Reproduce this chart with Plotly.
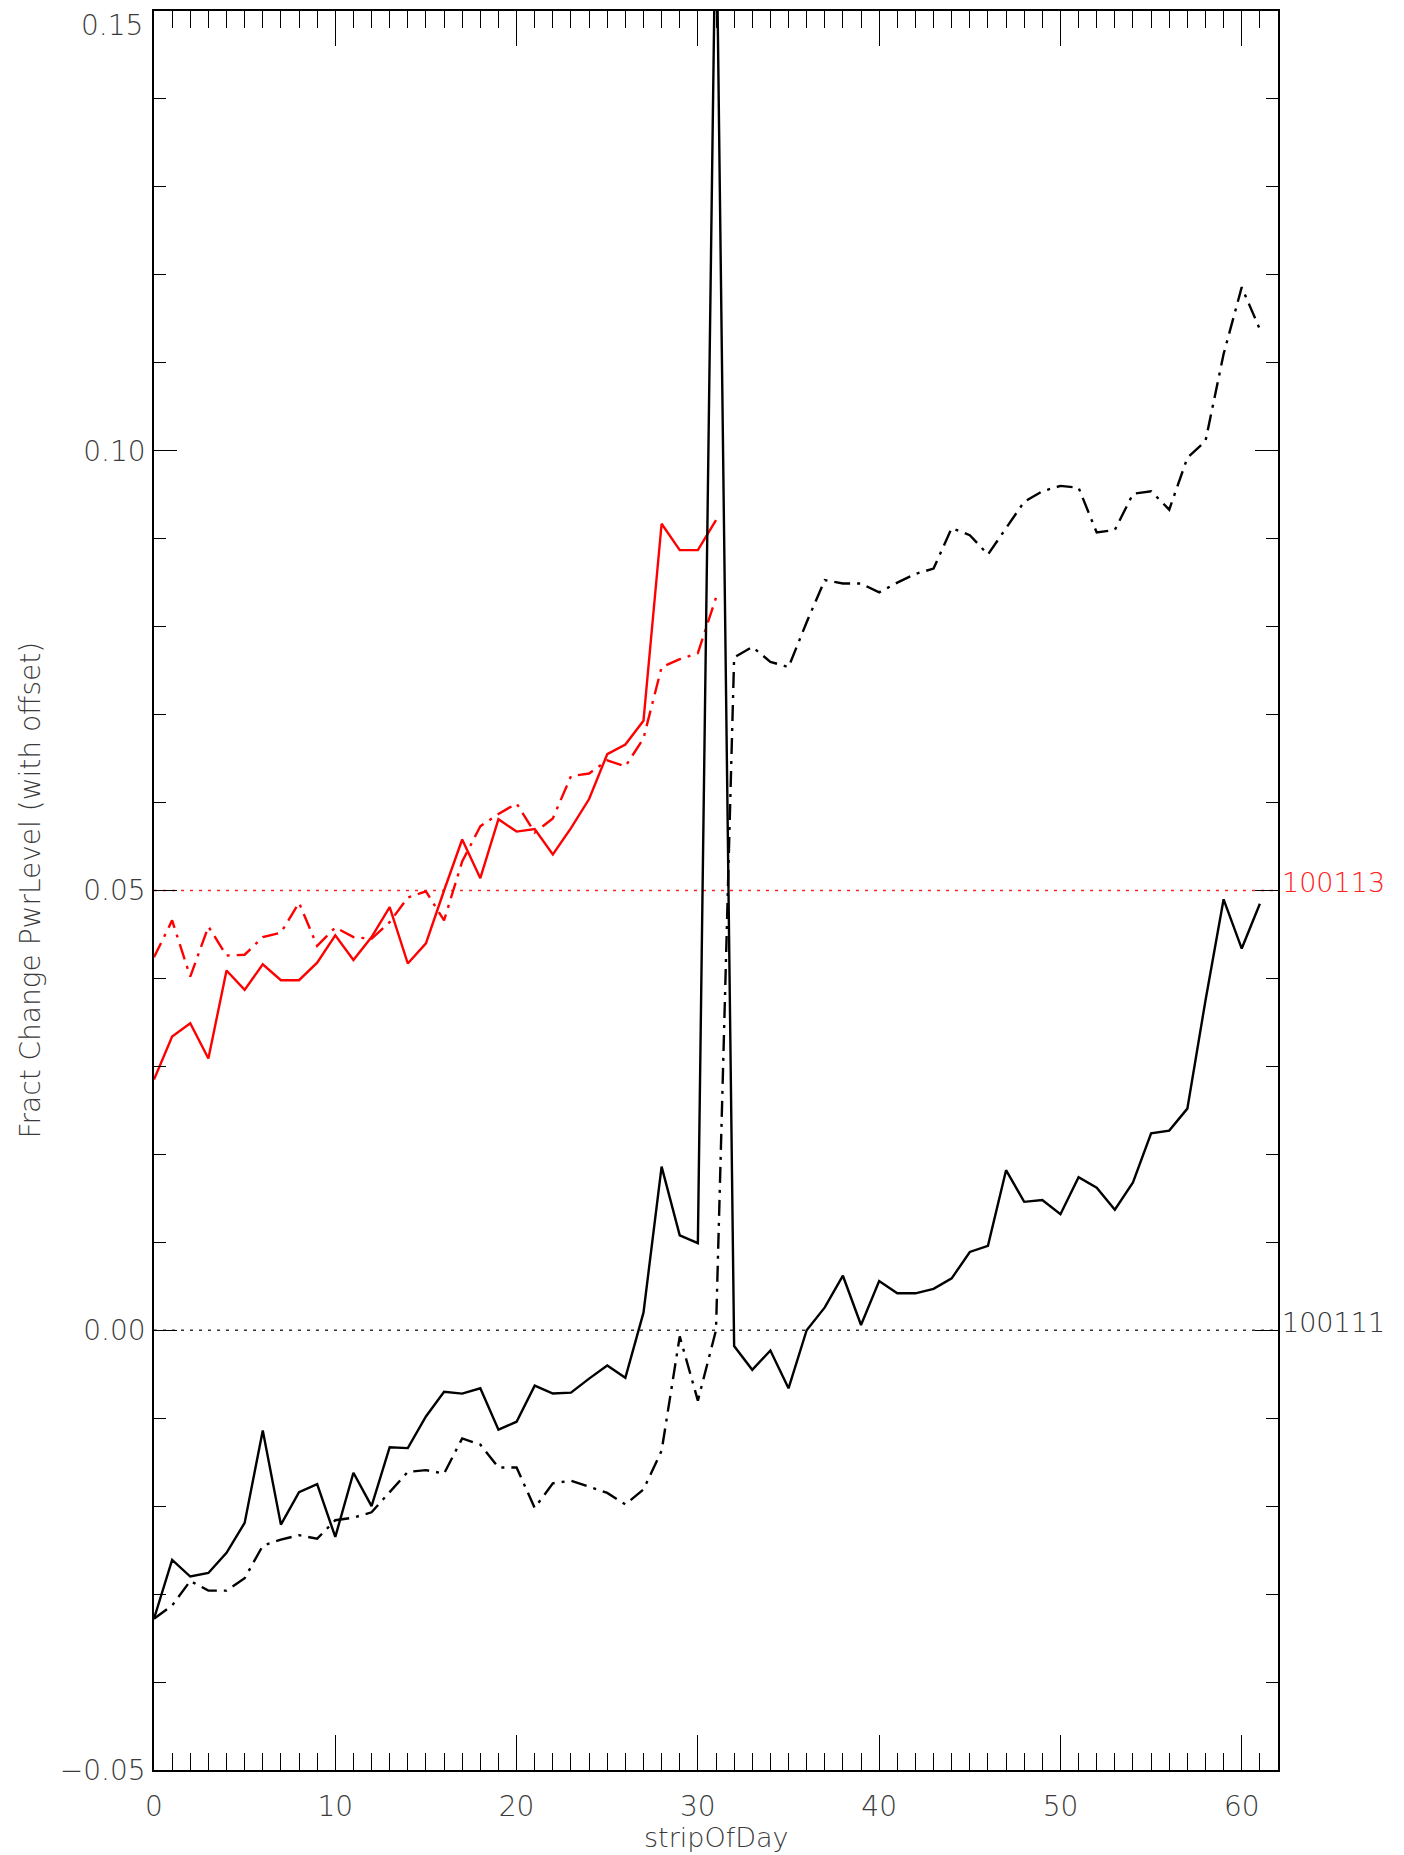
import plotly.graph_objects as go

# ---------------- data ----------------
strip_red = list(range(32))
strip_black = list(range(62))

red_solid = [0.0285, 0.0334, 0.0349, 0.0309, 0.0409, 0.0387, 0.0416, 0.0398, 0.0398, 0.0418,
             0.0449, 0.0421, 0.0447, 0.0481, 0.0417, 0.0440, 0.0500, 0.0558, 0.0514, 0.0581,
             0.0567, 0.0570, 0.0541, 0.0571, 0.0604, 0.0655, 0.0666, 0.0693, 0.0917, 0.0887,
             0.0887, 0.0921]

red_dashdot = [0.0424, 0.0466, 0.0402, 0.0459, 0.0426, 0.0427, 0.0447, 0.0452, 0.0486, 0.0437,
               0.0458, 0.0447, 0.0445, 0.0464, 0.0492, 0.0499, 0.0466, 0.0533, 0.0573, 0.0587,
               0.0599, 0.0566, 0.0582, 0.0630, 0.0633, 0.0648, 0.0641, 0.0673, 0.0754, 0.0763,
               0.0770, 0.0833]

black_solid = [-0.0328, -0.0261, -0.0280, -0.0276, -0.0253, -0.0219, -0.0114, -0.0221, -0.0184, -0.0175,
               -0.0235, -0.0162, -0.0200, -0.0133, -0.0134, -0.0098, -0.0070, -0.0072, -0.0066, -0.0113,
               -0.0104, -0.0063, -0.0072, -0.0071, -0.0055, -0.0040, -0.0054, 0.0020, 0.0186, 0.0108,
               0.0099, 0.1650, -0.0018, -0.0045, -0.0023, -0.0066, 0.0000, 0.0026, 0.0062, 0.0006,
               0.0056, 0.0042, 0.0042, 0.0047, 0.0059, 0.0089, 0.0096, 0.0182, 0.0146, 0.0148,
               0.0132, 0.0174, 0.0162, 0.0137, 0.0168, 0.0224, 0.0227, 0.0252, 0.0375, 0.0490,
               0.0434, 0.0485]

black_dashdot = [-0.0328, -0.0313, -0.0285, -0.0296, -0.0296, -0.0282, -0.0245, -0.0238, -0.0233, -0.0237,
                 -0.0216, -0.0213, -0.0207, -0.0184, -0.0161, -0.0159, -0.0163, -0.0123, -0.0130, -0.0156,
                 -0.0156, -0.0202, -0.0174, -0.0171, -0.0178, -0.0185, -0.0198, -0.0181, -0.0137, -0.0007,
                 -0.0080, 0.0000, 0.0765, 0.0777, 0.0760, 0.0754, 0.0805, 0.0853, 0.0849, 0.0849,
                 0.0839, 0.0850, 0.0860, 0.0866, 0.0912, 0.0904, 0.0882, 0.0912, 0.0942, 0.0954,
                 0.0960, 0.0958, 0.0907, 0.0910, 0.0951, 0.0954, 0.0933, 0.0992, 0.1011, 0.1110,
                 0.1186, 0.1138]

offsets = [0.05, 0.0]
offset_labels = ["100113", "100111"]
offset_colors = ["#ff2020", "#333333"]

x_range = [0, 62]
y_range = [-0.0500001, 0.1500001]
y_top_label = "0.15"

x_title = "stripOfDay"
y_title = "Fract Change PwrLevel (with offset)"

# ---------------- figure ----------------
FONT = "DejaVu Sans"
WEIGHT = 200
TXT = "#3a3a3a"
TICK_SIZE = 28
DASHDOT = "16px,7px,3px,7px"

fig = go.Figure()

# dotted reference lines at each offset
for off, col in zip(offsets, offset_colors):
    fig.add_trace(go.Scatter(x=[x_range[0], x_range[1]], y=[off, off], mode="lines",
                             line=dict(color=col, width=1.5, dash="3px,6px"),
                             hoverinfo="skip", showlegend=False))

fig.add_trace(go.Scatter(x=strip_red, y=red_solid, mode="lines",
                         line=dict(color="#ff0000", width=2.4), showlegend=False))
fig.add_trace(go.Scatter(x=strip_red, y=red_dashdot, mode="lines",
                         line=dict(color="#ff0000", width=2.4, dash=DASHDOT), showlegend=False))
fig.add_trace(go.Scatter(x=strip_black, y=black_solid, mode="lines",
                         line=dict(color="#000000", width=2.4), showlegend=False))
fig.add_trace(go.Scatter(x=strip_black, y=black_dashdot, mode="lines",
                         line=dict(color="#000000", width=2.4, dash=DASHDOT), showlegend=False))

annotations = []
for off, lab, col in zip(offsets, offset_labels, offset_colors):
    annotations.append(dict(xref="paper", yref="y", x=1, y=off, text=lab, showarrow=False,
                            xanchor="left", yanchor="middle", xshift=2, yshift=8,
                            font=dict(family=FONT, size=27, color=col, weight=WEIGHT)))

# top tick label sits just inside the frame (as in the original)
annotations.append(dict(xref="paper", yref="y", x=0, y=0.15, text=y_top_label, showarrow=False,
                        xanchor="right", yanchor="middle", xshift=-10, yshift=-14, borderpad=0,
                        font=dict(family=FONT, size=TICK_SIZE, color=TXT, weight=WEIGHT)))

annotations.append(dict(xref="paper", yref="paper", x=0, y=0.5, text=y_title, showarrow=False,
                        textangle=-90, xanchor="center", yanchor="middle", xshift=-124, yshift=0,
                        font=dict(family=FONT, size=28, color=TXT, weight=WEIGHT)))
annotations.append(dict(xref="paper", yref="paper", x=0.5, y=0, text=x_title, showarrow=False,
                        xanchor="center", yanchor="middle", yshift=-67,
                        font=dict(family=FONT, size=27, color=TXT, weight=WEIGHT)))

# the page body adds an 8px margin, so the figure is 8px smaller than the window
fig.update_layout(
    width=1396, height=1847,
    margin=dict(l=146, r=126, t=1, b=85),
    paper_bgcolor="white", plot_bgcolor="white",
    annotations=annotations,
    showlegend=False,
)

fig.update_xaxes(
    range=x_range, tick0=0, dtick=10,
    showgrid=False, zeroline=False,
    showline=True, linecolor="#000000", linewidth=1.5, mirror="allticks",
    ticks="inside", ticklen=35, tickwidth=1.2, tickcolor="#000000",
    minor=dict(ticks="inside", ticklen=17, tickwidth=1.2, tickcolor="#000000", dtick=1, showgrid=False),
    tickfont=dict(family=FONT, size=TICK_SIZE, color=TXT, weight=WEIGHT),
    ticklabelstandoff=11,
)
fig.update_yaxes(
    range=y_range, tick0=0, dtick=0.05, tickformat=".2f",
    labelalias={y_top_label: ""},
    showgrid=False, zeroline=False,
    showline=True, linecolor="#000000", linewidth=1.5, mirror="allticks",
    ticks="inside", ticklen=23, tickwidth=1.2, tickcolor="#000000",
    minor=dict(ticks="inside", ticklen=12, tickwidth=1.2, tickcolor="#000000", dtick=0.01, showgrid=False),
    tickfont=dict(family=FONT, size=TICK_SIZE, color=TXT, weight=WEIGHT),
    ticklabelstandoff=1,
)

fig.write_html("out.html")
